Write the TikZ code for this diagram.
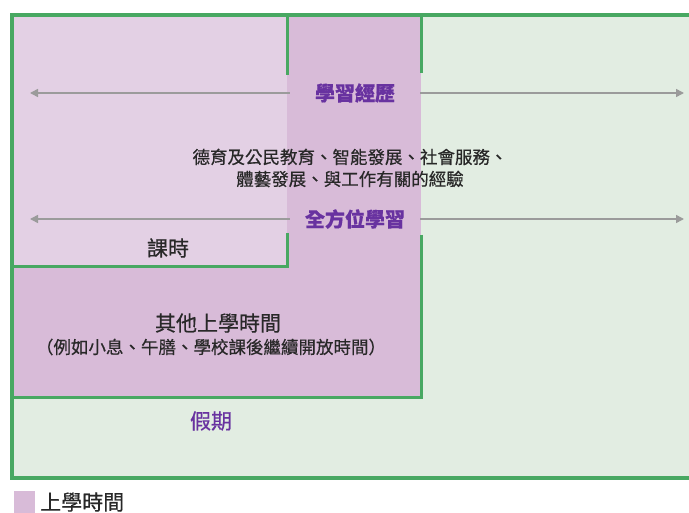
\documentclass[tikz,border=0pt]{standalone}
\usepackage{fontspec}
\usepackage{tikz}
\usetikzlibrary{arrows.meta}

\newfontfamily\tcfont[FakeBold=0.5]{Noto Sans CJK TC}

\definecolor{holgreen}{RGB}{226,237,226}
\definecolor{lessonpink}{RGB}{227,208,228}
\definecolor{schoolpink}{RGB}{216,187,216}
\definecolor{framegreen}{RGB}{72,168,98}
\definecolor{arrowgray}{RGB}{155,155,155}
\definecolor{labelpurple}{RGB}{104,50,160}
\definecolor{textgray}{RGB}{40,40,40}

\tikzset{
  wall/.style={framegreen, line width=3pt},
  spanarrow/.style={arrowgray, line width=1.6pt, -{Triangle[length=8pt,width=8pt]}},
  bandlabel/.style={labelpurple, font=\tcfont\bfseries\fontsize{20pt}{22pt}\selectfont,
    minimum width=130pt, inner sep=0pt},
  boxlabel/.style={textgray, font=\tcfont\fontsize{21pt}{24pt}\selectfont, inner sep=0pt},
  smalltext/.style={textgray, font=\tcfont\fontsize{17.5pt}{22pt}\selectfont, align=center, inner sep=0pt}
}

\begin{document}
\begin{tikzpicture}[x=1pt, y=-1pt]
\useasboundingbox (0,0) rectangle (689,513);

%%%  areas

% holidays
\fill [holgreen] (12,15) rectangle (689,478);
% school time
\fill [schoolpink] (12,15) rectangle (421,398);
% lesson time
\fill [lessonpink] (12,15) rectangle (287,267);

%%% walls

% outer frame
\draw [framegreen, line width=4pt] (689,15) -- (12,15) -- (12,478) -- (689,478);

% lesson time box
\draw [wall] (287,15) -- (287,75);
\draw [wall] (287,233) -- (287,267) -- (12,267);

% school time box
\draw [wall] (421,15) -- (421,73);
\draw [wall] (421,235) -- (421,398) -- (12,398);

%%% nodes

% band labels
\node [bandlabel] (exp) at (355,93) {學習經歷};
\node [bandlabel] (all) at (355,219) {全方位學習};

% arrow ends
\coordinate (expl) at (30,93);
\coordinate (expr) at (684,93);
\coordinate (alll) at (30,219);
\coordinate (allr) at (684,219);

% box labels
\node [smalltext] (kla) at (350,168) {德育及公民教育、智能發展、社會服務、\\體藝發展、與工作有關的經驗};
\node [boxlabel] (lesson) at (168,248) {課時};
\node [boxlabel] (other) at (218,323) {其他上學時間};
\node [smalltext] (eg) at (211,347) {（例如小息、午膳、學校課後繼續開放時間）};
\node [boxlabel, labelpurple] (hol) at (211,421) {假期};

% legend
\fill [schoolpink] (14,491) rectangle (35,513);
\node [boxlabel, anchor=west] (key) at (40,502) {上學時間};

%%% edges

\draw [spanarrow] (exp.west) -- (expl);
\draw [spanarrow] (exp.east) -- (expr);
\draw [spanarrow] (all.west) -- (alll);
\draw [spanarrow] (all.east) -- (allr);
\end{tikzpicture}
\end{document}
